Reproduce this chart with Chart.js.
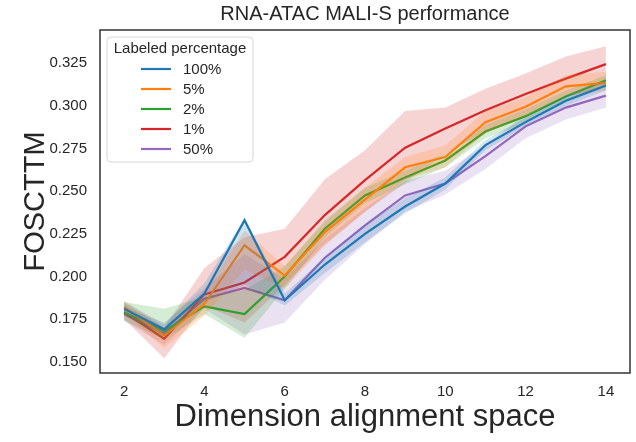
<!DOCTYPE html>
<html>
<head>
<meta charset="utf-8">
<script src="https://cdn.jsdelivr.net/npm/chart.js@4/dist/chart.umd.min.js"></script>
<style>
  html, body { margin: 0; padding: 0; background: #ffffff; }
  #wrap { width: 636px; height: 442px; position: relative; }
</style>
</head>
<body>
<div id="wrap"><canvas id="chart" width="636" height="442"></canvas></div>
<script>
// Dimension of the alignment space
const dims = [2, 3, 4, 5, 6, 7, 8, 9, 10, 11, 12, 13, 14];
const xTicks = [2, 4, 6, 8, 10, 12, 14];
const yTicks = [0.150, 0.175, 0.200, 0.225, 0.250, 0.275, 0.300, 0.325];

// Mean FOSCTTM per labeled percentage
const mean100 = [0.181, 0.169, 0.190, 0.233, 0.186, 0.207, 0.225, 0.241, 0.2545, 0.277, 0.2905, 0.303, 0.312];
const mean5   = [0.182, 0.1655, 0.184, 0.2183, 0.2005, 0.226, 0.245, 0.264, 0.270, 0.2905, 0.2995, 0.3115, 0.3135];
const mean2   = [0.179, 0.168, 0.1825, 0.178, 0.200, 0.228, 0.2475, 0.258, 0.268, 0.285, 0.294, 0.3055, 0.315];
const mean1   = [0.179, 0.1635, 0.1895, 0.1965, 0.2115, 0.236, 0.2565, 0.2755, 0.2868, 0.2975, 0.307, 0.316, 0.3245];
const mean50  = [0.178, 0.1665, 0.187, 0.1933, 0.186, 0.211, 0.230, 0.2475, 0.2545, 0.2705, 0.288, 0.299, 0.306];

// Confidence band bounds
const lo100 = [0.177, 0.165, 0.185, 0.195, 0.183, 0.202, 0.220, 0.237, 0.251, 0.274, 0.288, 0.300, 0.309];
const hi100 = [0.185, 0.172, 0.196, 0.234, 0.190, 0.211, 0.230, 0.246, 0.258, 0.280, 0.293, 0.306, 0.315];
const lo5   = [0.178, 0.158, 0.177, 0.204, 0.193, 0.218, 0.238, 0.257, 0.264, 0.284, 0.294, 0.306, 0.309];
const hi5   = [0.186, 0.170, 0.190, 0.227, 0.206, 0.232, 0.252, 0.270, 0.277, 0.297, 0.305, 0.318, 0.320];
const lo2   = [0.174, 0.163, 0.178, 0.164, 0.193, 0.223, 0.243, 0.254, 0.264, 0.281, 0.290, 0.302, 0.311];
const hi2   = [0.185, 0.181, 0.188, 0.192, 0.206, 0.233, 0.252, 0.262, 0.272, 0.289, 0.298, 0.309, 0.318];
const lo1   = [0.175, 0.152, 0.183, 0.173, 0.195, 0.219, 0.238, 0.255, 0.272, 0.285, 0.295, 0.305, 0.312];
const hi1   = [0.184, 0.170, 0.205, 0.223, 0.228, 0.257, 0.274, 0.297, 0.299, 0.310, 0.319, 0.329, 0.335];
const lo50  = [0.174, 0.160, 0.181, 0.166, 0.173, 0.198, 0.219, 0.238, 0.248, 0.263, 0.281, 0.292, 0.299];
const hi50  = [0.182, 0.173, 0.193, 0.213, 0.199, 0.222, 0.240, 0.256, 0.262, 0.277, 0.295, 0.306, 0.312];

const seriesLabels = ['100%', '5%', '2%', '1%', '50%'];
const seriesColors = ['#1f77b4', '#ff7f0e', '#2ca02c', '#d62728', '#9467bd'];
const seriesMeans = [mean100, mean5, mean2, mean1, mean50];
const seriesLo = [lo100, lo5, lo2, lo1, lo50];
const seriesHi = [hi100, hi5, hi2, hi1, hi50];

function rgba(hex, a) {
  const n = parseInt(hex.slice(1), 16);
  return `rgba(${(n >> 16) & 255},${(n >> 8) & 255},${n & 255},${a})`;
}
const pts = arr => arr.map((v, i) => ({ x: dims[i], y: v }));

const FONT = "'Liberation Sans', Arial, sans-serif";
const TEXT = '#262626';

const datasets = [];
seriesLabels.forEach((label, i) => {
  const c = seriesColors[i];
  datasets.push({
    label: label + ' lo', data: pts(seriesLo[i]),
    borderWidth: 0, pointRadius: 0, fill: false, borderColor: 'transparent'
  });
  datasets.push({
    label: label + ' hi', data: pts(seriesHi[i]),
    borderWidth: 0, pointRadius: 0, borderColor: 'transparent',
    fill: '-1', backgroundColor: rgba(c, 0.2)
  });
  datasets.push({
    label: label, data: pts(seriesMeans[i]),
    borderColor: c, borderWidth: 2.2, pointRadius: 0, fill: false,
    borderJoinStyle: 'miter'
  });
});

// Title, frame and boxed legend
const decor = {
  id: 'decor',
  afterDatasetsDraw(chart) {
    const { ctx, chartArea: a } = chart;
    ctx.save();
    ctx.strokeStyle = '#333333';
    ctx.lineWidth = 1.5;
    ctx.strokeRect(a.left, a.top, a.right - a.left, a.bottom - a.top);

    // title
    ctx.fillStyle = TEXT;
    ctx.font = `20px ${FONT}`;
    ctx.textAlign = 'center';
    ctx.textBaseline = 'middle';
    ctx.fillText('RNA-ATAC MALI-S performance', (a.left + a.right) / 2, 14);

    // legend box
    const bx = 107, by = 37, bw = 146, bh = 125, r = 4;
    ctx.beginPath();
    ctx.moveTo(bx + r, by);
    ctx.arcTo(bx + bw, by, bx + bw, by + bh, r);
    ctx.arcTo(bx + bw, by + bh, bx, by + bh, r);
    ctx.arcTo(bx, by + bh, bx, by, r);
    ctx.arcTo(bx, by, bx + bw, by, r);
    ctx.closePath();
    ctx.fillStyle = 'rgba(255,255,255,0.8)';
    ctx.fill();
    ctx.strokeStyle = '#d6d6d6';
    ctx.lineWidth = 1;
    ctx.stroke();

    ctx.fillStyle = TEXT;
    ctx.font = `15px ${FONT}`;
    ctx.textAlign = 'center';
    ctx.fillText('Labeled percentage', bx + bw / 2, 49);
    ctx.textAlign = 'left';
    seriesLabels.forEach((lab, i) => {
      const y = 69 + i * 20;
      ctx.strokeStyle = seriesColors[i];
      ctx.lineWidth = 2.2;
      ctx.beginPath();
      ctx.moveTo(141, y);
      ctx.lineTo(171, y);
      ctx.stroke();
      ctx.fillStyle = TEXT;
      ctx.fillText(lab, 183, y + 1);
    });
    ctx.restore();
  }
};

new Chart(document.getElementById('chart'), {
  type: 'line',
  data: { datasets },
  plugins: [decor],
  options: {
    responsive: false,
    animation: false,
    layout: { padding: { top: 30, right: 6, left: 0, bottom: 0 } },
    plugins: { legend: { display: false }, tooltip: { enabled: false }, filler: { propagate: false } },
    elements: { line: { tension: 0 } },
    scales: {
      x: {
        type: 'linear', min: 1.4, max: 14.6,
        afterBuildTicks: s => { s.ticks = xTicks.map(v => ({ value: v })); },
        afterFit: s => { s.height = 69; },
        grid: { display: false, drawTicks: false },
        border: { display: false },
        ticks: { color: TEXT, font: { family: FONT, size: 15 }, padding: 10, maxRotation: 0, autoSkip: false },
        title: { display: true, text: 'Dimension alignment space', color: TEXT,
                 font: { family: FONT, size: 31 }, padding: { top: 0, bottom: 6 } }
      },
      y: {
        type: 'linear', min: 0.1434, max: 0.3445,
        afterBuildTicks: s => { s.ticks = yTicks.map(v => ({ value: v })); },
        afterFit: s => { s.width = 100; },
        grid: { display: false, drawTicks: false },
        border: { display: false },
        ticks: { color: TEXT, font: { family: FONT, size: 15 }, padding: 13,
                 callback: v => v.toFixed(3) },
        title: { display: true, text: 'FOSCTTM', color: TEXT,
                 font: { family: FONT, size: 29 }, padding: { top: 19, bottom: 0 } }
      }
    }
  }
});
</script>
</body>
</html>
